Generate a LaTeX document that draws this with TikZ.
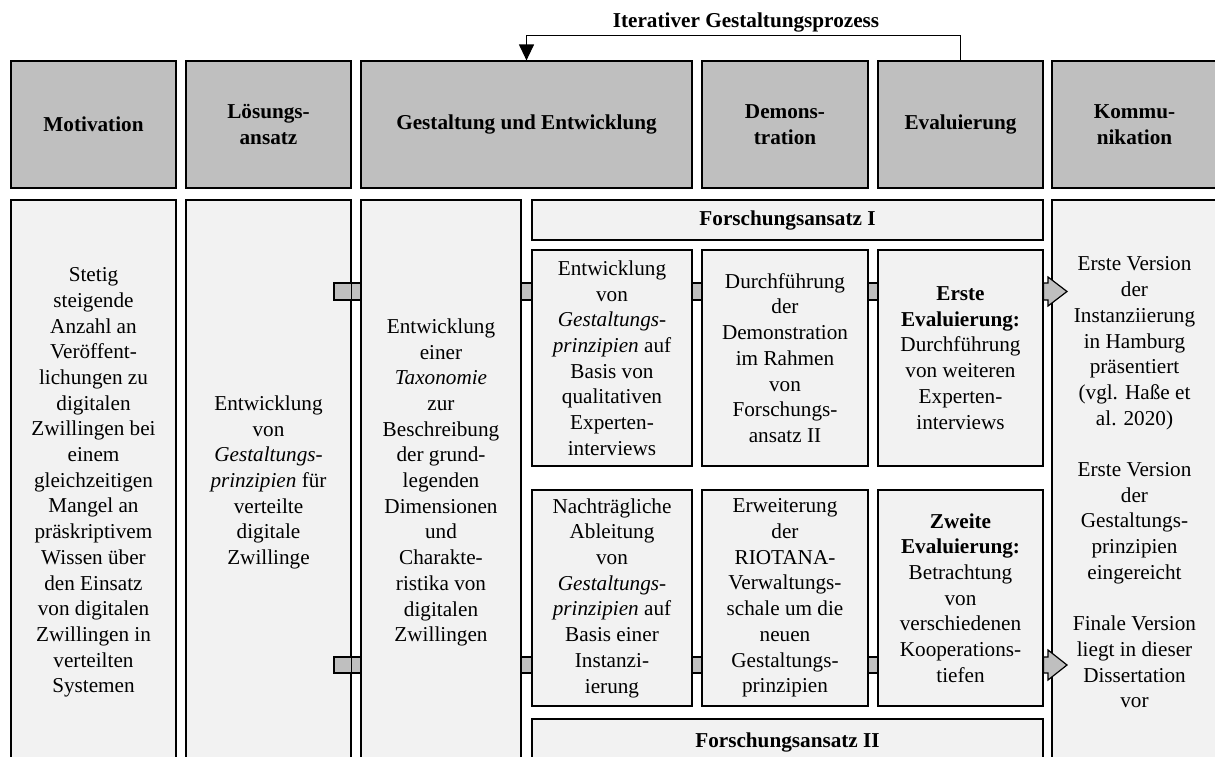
\documentclass[tikz,border=0pt]{standalone}
\usepackage{fontspec}
\setmainfont{Liberation Serif}
\usetikzlibrary{shadows,arrows.meta}

\definecolor{kopfgrau}{HTML}{BFBFBF}
\definecolor{feldgrau}{HTML}{F2F2F2}

\tikzset{
  kasten/.style={draw=black, line width=0.6pt, inner sep=0pt, align=center,
    font=\fontsize{10.6}{12.85}\selectfont,
    drop shadow={shadow xshift=0.6pt, shadow yshift=-0.6pt, fill=black, opacity=1}},
  kopf/.style={kasten, fill=kopfgrau, minimum height=63.5pt, font=\fontsize{10.6}{12.85}\selectfont\bfseries},
  feld/.style={kasten, fill=feldgrau},
  pfeil/.style={draw=black, line width=0.6pt, fill=kopfgrau},
  rueck/.style={draw=black, line width=0.6pt, -{Triangle[width=7.5pt,length=8pt]}},
}

\begin{document}
\begin{tikzpicture}[x=0.5pt, y=-0.5pt]
\path[use as bounding box, clip] (0,0) rectangle (1215,756);
% Kopfzeile: Phasen des Gestaltungsprozesses
\node[kopf, minimum width=82.5pt] (motH) at (93.5,124.5) {Motivation};
\node[kopf, minimum width=82.5pt] (loesH) at (268.5,124.5) {Lösungs-\\ansatz};
\node[kopf, minimum width=165.5pt] (gestH) at (526.5,124.5) {Gestaltung und Entwicklung};
\node[kopf, minimum width=83pt] (demoH) at (785,124.5) {Demons-\\tration};
\node[kopf, minimum width=82.5pt] (evalH) at (960.5,124.5) {Evaluierung};
\node[kopf, minimum width=82.5pt] (kommH) at (1134.5,124.5) {Kommu-\\nikation};
\node[font=\fontsize{10.6}{12.85}\selectfont\bfseries] (titel) at (746,22) {Iterativer Gestaltungsprozess};
\draw[rueck] (evalH.north) -- ++(0,-25) -| (gestH.north);

% Inhalte
\node[feld, minimum width=82.5pt, minimum height=282.5pt] (motL) at (93.5,482.5) {Stetig\\steigende\\Anzahl an\\Veröffent-\\lichungen zu\\digitalen\\Zwillingen bei\\einem\\gleichzeitigen\\Mangel an\\präskriptivem\\Wissen über\\den Einsatz\\von digitalen\\Zwillingen in\\verteilten\\Systemen};
\node[feld, minimum width=82.5pt, minimum height=282.5pt] (loesL) at (268.5,482.5) {Entwicklung\\von\\\textit{Gestaltungs-}\\\textit{prinzipien} für\\verteilte\\digitale\\Zwillinge};
\node[feld, minimum width=80pt, minimum height=282.5pt] (gestL) at (441,482.5) {Entwicklung\\einer\\\textit{Taxonomie}\\zur\\Beschreibung\\der grund-\\legenden\\Dimensionen\\und\\Charakte-\\ristika von\\digitalen\\Zwillingen};
\node[feld, minimum width=255.5pt, minimum height=20pt] (faEins) at (787.5,220) {\textbf{Forschungsansatz I}};
\node[feld, minimum width=80pt, minimum height=108pt] (entw1) at (612,358) {Entwicklung\\von\\\textit{Gestaltungs-}\\\textit{prinzipien} auf\\Basis von\\qualitativen\\Experten-\\interviews};
\node[feld, minimum width=83pt, minimum height=108pt] (demo1) at (785,358) {Durchführung\\der\\Demonstration\\im Rahmen\\von\\Forschungs-\\ansatz II};
\node[feld, minimum width=82.5pt, minimum height=108pt] (eval1) at (960.5,358) {\textbf{Erste}\\\textbf{Evaluierung:}\\Durchführung\\von weiteren\\Experten-\\interviews};
\node[feld, minimum width=80pt, minimum height=108pt] (entw2) at (612,598) {Nachträgliche\\Ableitung\\von\\\textit{Gestaltungs-}\\\textit{prinzipien} auf\\Basis einer\\Instanzi-\\ierung};
\node[feld, minimum width=83pt, minimum height=108pt] (demo2) at (785,598) {Erweiterung\\der\\RIOTANA-\\Verwaltungs-\\schale um die\\neuen\\Gestaltungs-\\prinzipien};
\node[feld, minimum width=82.5pt, minimum height=108pt] (eval2) at (960.5,598) {\textbf{Zweite}\\\textbf{Evaluierung:}\\Betrachtung\\von\\verschiedenen\\Kooperations-\\tiefen};
\node[feld, minimum width=255.5pt, minimum height=23pt] (faZwei) at (787.5,742) {\textbf{Forschungsansatz II}};
\node[feld, minimum width=82.5pt, minimum height=282.5pt] (kommL) at (1134.5,482.5) {Erste Version\\der\\Instanziierung\\in Hamburg\\präsentiert\\(vgl. Haße et\\al. 2020)\\[12.85pt]Erste Version\\der\\Gestaltungs-\\prinzipien\\eingereicht\\[12.85pt]Finale Version\\liegt in dieser\\Dissertation\\vor};

% Verbindungen
\coordinate (obenO) at (0,283);
\coordinate (obenU) at (0,300);
\coordinate (untenO) at (0,657);
\coordinate (untenU) at (0,673);
\coordinate (stummel) at (334,0);
\coordinate (kopfO1) at (1048,277);
\coordinate (kopfO2) at (1048,306);
\coordinate (spitzeO) at (1067,291.5);
\coordinate (kopfU1) at (1048,650);
\coordinate (kopfU2) at (1048,680);
\coordinate (spitzeU) at (1067,665);

\draw[pfeil] (stummel |- obenO) rectangle (gestL.west |- obenU);
\draw[line width=0.6pt] (loesL.east |- obenO) -- (loesL.east |- obenU);
\draw[pfeil] (gestL.east |- obenO) rectangle (entw1.west |- obenU);
\draw[pfeil] (entw1.east |- obenO) rectangle (demo1.west |- obenU);
\draw[pfeil] (demo1.east |- obenO) rectangle (eval1.west |- obenU);
\draw[pfeil] (eval1.east |- obenO) -- (kopfO1 |- obenO) -- (kopfO1) -- (spitzeO)
  -- (kopfO2) -- (kopfO2 |- obenU) -- (eval1.east |- obenU) -- cycle;

\draw[pfeil] (stummel |- untenO) rectangle (gestL.west |- untenU);
\draw[line width=0.6pt] (loesL.east |- untenO) -- (loesL.east |- untenU);
\draw[pfeil] (gestL.east |- untenO) rectangle (entw2.west |- untenU);
\draw[pfeil] (entw2.east |- untenO) rectangle (demo2.west |- untenU);
\draw[pfeil] (demo2.east |- untenO) rectangle (eval2.west |- untenU);
\draw[pfeil] (eval2.east |- untenO) -- (kopfU1 |- untenO) -- (kopfU1) -- (spitzeU)
  -- (kopfU2) -- (kopfU2 |- untenU) -- (eval2.east |- untenU) -- cycle;
\end{tikzpicture}
\end{document}
